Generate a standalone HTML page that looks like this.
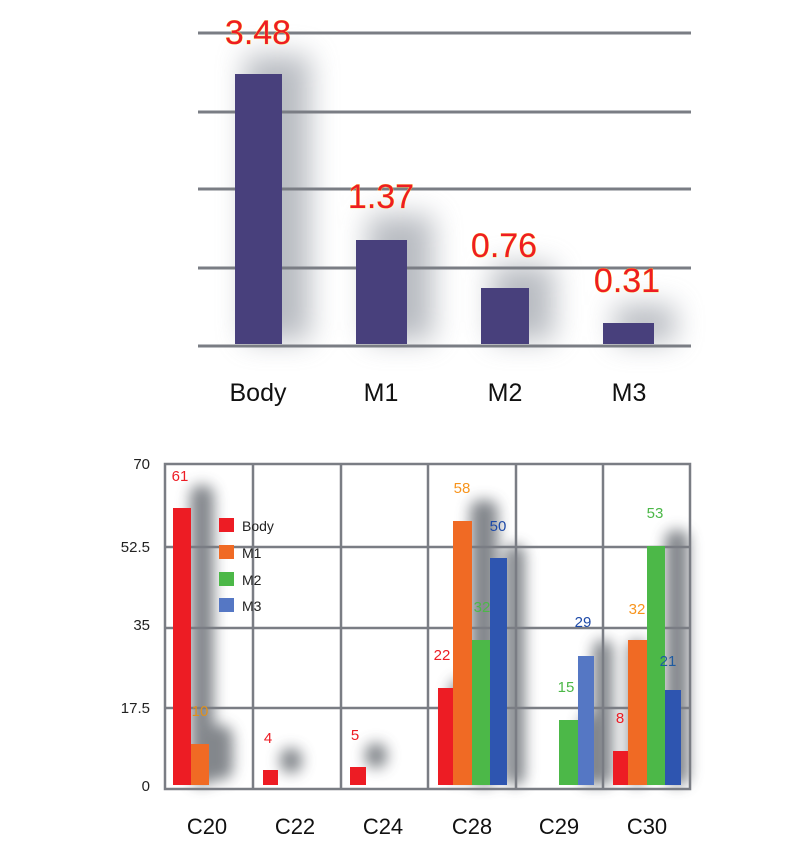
<!DOCTYPE html>
<html><head><meta charset="utf-8"><style>
html,body{margin:0;padding:0;background:#fff;}
svg{display:block;}
</style></head><body>
<svg width="800" height="849" viewBox="0 0 800 849" xmlns="http://www.w3.org/2000/svg">
<defs>
<filter id="b1" x="-100%" y="-50%" width="300%" height="200%"><feGaussianBlur stdDeviation="14"/></filter>
<filter id="b2" x="-100%" y="-50%" width="300%" height="200%"><feGaussianBlur stdDeviation="7"/></filter>
</defs>
<!-- Top chart -->
<g fill="#8a909a" opacity="0.6" filter="url(#b1)">
<rect x="245" y="55" width="65" height="285"/>
<rect x="368" y="215" width="65" height="125"/>
<rect x="492" y="265" width="62" height="75"/>
<rect x="615" y="305" width="60" height="37"/>
</g>
<g stroke="#7a7d84" stroke-width="3">
<line x1="198" y1="33" x2="691" y2="33"/>
<line x1="198" y1="112" x2="691" y2="112"/>
<line x1="198" y1="189" x2="691" y2="189"/>
<line x1="198" y1="268" x2="691" y2="268"/>
<line x1="198" y1="346" x2="691" y2="346"/>
</g>
<g fill="#48407c">
<rect x="235" y="74" width="47" height="270"/>
<rect x="356" y="240" width="51" height="104"/>
<rect x="481" y="288" width="48" height="56"/>
<rect x="603" y="323" width="51" height="21"/>
</g>
<g font-family="Liberation Sans, sans-serif" font-size="34" fill="#ee1c24" stroke="#ffe640" stroke-width="0.6" paint-order="stroke" text-anchor="middle">
<text x="258" y="44">3.48</text>
<text x="381" y="208">1.37</text>
<text x="504" y="257">0.76</text>
<text x="627" y="292">0.31</text>
</g>
<g font-family="Liberation Sans, sans-serif" font-size="25" fill="#111" text-anchor="middle">
<text x="258" y="401">Body</text>
<text x="381" y="401">M1</text>
<text x="505" y="401">M2</text>
<text x="629" y="401">M3</text>
</g>

<!-- Bottom chart -->
<g fill="#50545c" opacity="0.7" filter="url(#b2)">
<rect x="190" y="485" width="24" height="300" rx="10"/>
<rect x="205" y="725" width="28" height="55" rx="12"/>
<rect x="280" y="748" width="22" height="25" rx="10"/>
<rect x="365" y="743" width="22" height="25" rx="10"/>
<rect x="470" y="500" width="28" height="285" rx="10"/>
<rect x="505" y="545" width="20" height="240" rx="9"/>
<rect x="593" y="640" width="20" height="145" rx="9"/>
<rect x="450" y="680" width="18" height="100" rx="9"/>
<rect x="580" y="715" width="20" height="70" rx="9"/>
<rect x="665" y="530" width="24" height="255" rx="10"/>
<rect x="628" y="640" width="18" height="145" rx="9"/>
</g>
<g stroke="#7a7d84" stroke-width="2.5" fill="none">
<rect x="165" y="464" width="525" height="325"/>
<line x1="165" y1="547" x2="690" y2="547"/>
<line x1="165" y1="628" x2="690" y2="628"/>
<line x1="165" y1="708" x2="690" y2="708"/>
<line x1="253" y1="464" x2="253" y2="789"/>
<line x1="341" y1="464" x2="341" y2="789"/>
<line x1="428" y1="464" x2="428" y2="789"/>
<line x1="516" y1="464" x2="516" y2="789"/>
<line x1="603" y1="464" x2="603" y2="789"/>
</g>
<g>
<rect x="173" y="508" width="18" height="277" fill="#ed1c24"/>
<rect x="191" y="744" width="18" height="41" fill="#f06a24"/>
<rect x="263" y="770" width="15" height="15" fill="#ed1c24"/>
<rect x="350" y="767" width="16" height="18" fill="#ed1c24"/>
<rect x="438" y="688" width="15" height="97" fill="#ed1c24"/>
<rect x="453" y="521" width="19" height="264" fill="#f06a24"/>
<rect x="472" y="640" width="18" height="145" fill="#4cb848"/>
<rect x="490" y="558" width="17" height="227" fill="#2e55b0"/>
<rect x="559" y="720" width="19" height="65" fill="#4cb848"/>
<rect x="578" y="656" width="16" height="129" fill="#5577c4"/>
<rect x="613" y="751" width="15" height="34" fill="#ed1c24"/>
<rect x="628" y="640" width="19" height="145" fill="#f06a24"/>
<rect x="647" y="546" width="18" height="239" fill="#4cb848"/>
<rect x="665" y="690" width="16" height="95" fill="#2e55b0"/>
</g>
<g font-family="Liberation Sans, sans-serif" font-size="15" text-anchor="middle">
<text x="180" y="481" fill="#ed1c24">61</text>
<text x="200" y="716" fill="#e0901c">10</text>
<text x="268" y="743" fill="#ed1c24">4</text>
<text x="355" y="740" fill="#ed1c24">5</text>
<text x="442" y="660" fill="#ed1c24">22</text>
<text x="462" y="493" fill="#f7941d">58</text>
<text x="482" y="612" fill="#4cb848">32</text>
<text x="498" y="531" fill="#1e4aa8">50</text>
<text x="566" y="692" fill="#4cb848">15</text>
<text x="583" y="627" fill="#1e4aa8">29</text>
<text x="620" y="723" fill="#ed1c24">8</text>
<text x="637" y="614" fill="#f7941d">32</text>
<text x="655" y="518" fill="#4cb848">53</text>
<text x="668" y="666" fill="#1e5aa0">21</text>
</g>
<g font-family="Liberation Sans, sans-serif" font-size="14" fill="#222">
<rect x="219" y="518" width="15" height="14" fill="#ed1c24"/>
<rect x="219" y="545" width="15" height="14" fill="#f06a24"/>
<rect x="219" y="572" width="15" height="14" fill="#4cb848"/>
<rect x="219" y="598" width="15" height="14" fill="#5577c4"/>
<text x="242" y="531">Body</text>
<text x="242" y="558">M1</text>
<text x="242" y="585">M2</text>
<text x="242" y="611">M3</text>
</g>
<g font-family="Liberation Sans, sans-serif" font-size="15" fill="#222" text-anchor="end">
<text x="150" y="469">70</text>
<text x="150" y="552">52.5</text>
<text x="150" y="630">35</text>
<text x="150" y="713">17.5</text>
<text x="150" y="791">0</text>
</g>
<g font-family="Liberation Sans, sans-serif" font-size="22" fill="#111" text-anchor="middle">
<text x="207" y="834">C20</text>
<text x="295" y="834">C22</text>
<text x="383" y="834">C24</text>
<text x="472" y="834">C28</text>
<text x="559" y="834">C29</text>
<text x="647" y="834">C30</text>
</g>
</svg>
</body></html>
